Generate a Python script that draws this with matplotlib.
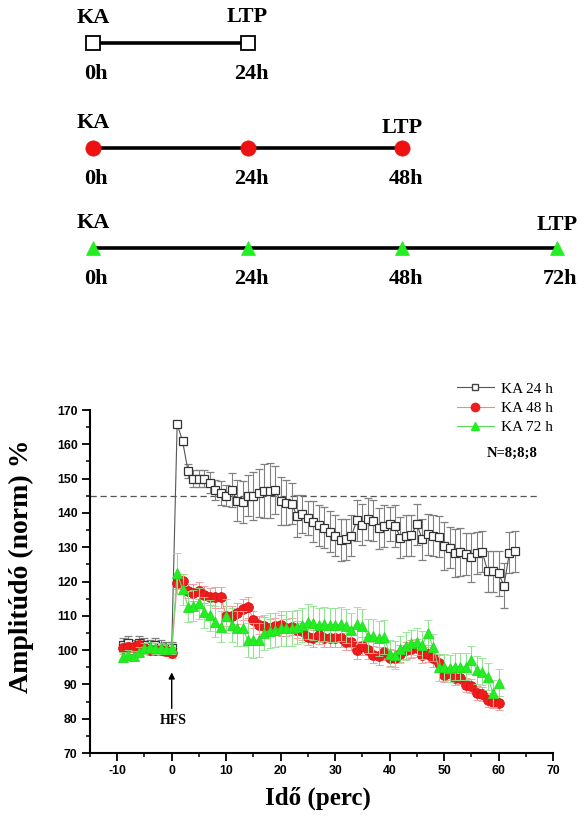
import matplotlib
matplotlib.use('Agg')
import matplotlib.pyplot as plt
from matplotlib.lines import Line2D
from matplotlib.ticker import MultipleLocator

plt.rcParams['axes.unicode_minus'] = False

# ---------------- data ----------------
t24 = list(range(-9, 64))
ka24 = [101.5, 102, 101, 102, 101.5, 101, 101.5, 101, 100.5, 100.5,
        165.9, 160.9, 152.2, 150, 150, 150, 148.8, 146.7, 145.9, 145,
        146.7, 143.6, 143.2, 145, 144.8, 145.7, 146.4, 146.5, 146.6, 143.4,
        143, 142.7, 139.1, 139.6, 138.6, 137.4, 136.4, 135.7, 134.5, 133.3,
        132.1, 132.3, 133.3, 137.9, 136.5, 138.2, 137.7, 135.5, 136.2, 136.7,
        136.2, 132.8, 133.3, 133.5, 136.7, 132.3, 133.8, 133.3, 133.1, 130.4,
        129.9, 128.4, 128.6, 128, 127, 128.3, 128.7, 123, 123, 122.4,
        118.8, 128.4, 128.8]
ka24_err = [2, 2, 2, 2, 2, 2, 2, 2, 2, 2,
            1, 1, 2, 2.5, 2.5, 2.5, 3, 3, 3.5, 3,
            5, 6, 6, 6, 7, 7, 8, 8, 7, 7,
            6.5, 6, 6, 5.5, 5, 6, 6, 6, 6, 6,
            6, 6, 6, 6, 6, 6, 6, 6, 6, 5,
            6, 6, 6, 6, 6, 6, 6, 6, 6, 7,
            6, 7, 7, 6, 7, 6, 6, 6, 6, 6.5,
            6.5, 6, 6]

t48 = list(range(-9, 61))
ka48 = [100.5, 101, 101, 101.5, 100.5, 100, 100, 100, 99.8, 99.3,
        119.7, 120.2, 117.3, 116.7, 117.3, 116.1, 115.6, 115.4, 115.4, 110,
        110, 110.7, 111.9, 112.5, 108.8, 107.3, 107.1, 106.5, 107, 107.2,
        106.5, 106.8, 106, 105.5, 103.9, 103.5, 104.4, 103.4, 103.4, 103.4,
        103.4, 102.5, 102.5, 100, 101.2, 100, 98.6, 98.3, 99.5, 97.8,
        97.6, 98.9, 100, 100.3, 100.6, 98.6, 98.9, 97.6, 96.1, 92.7,
        93.2, 91.8, 92, 89.8, 89.5, 87.4, 87.2, 85.4, 85, 84.5]
ka48_err = [1.5, 1.5, 1.5, 1.5, 1.5, 1.5, 1.5, 1.5, 1.5, 1.5,
            2, 2, 2, 2.5, 2.5, 2.5, 2.5, 3, 3, 3,
            3, 3, 3, 3, 2.5, 2.5, 2.5, 2.5, 2.5, 3,
            2.5, 2.5, 2.5, 2.5, 2.5, 2.5, 2.5, 2.5, 2.5, 2.5,
            2.5, 2.5, 2.5, 2.5, 2.5, 2.5, 2.5, 2.5, 2.5, 2.5,
            2.5, 2.5, 2.5, 2.5, 2.5, 2.5, 2.5, 2.5, 2.5, 2,
            2, 2, 2, 2, 2, 2, 2, 2, 2, 2]

t72 = list(range(-9, 61))
ka72 = [98, 98.5, 98.3, 99.5, 100.5, 101, 100.5, 100.5, 100.3, 100.5,
        122.4, 117.7, 112.7, 112.9, 113.6, 111, 110.2, 108.3, 106.8, 110,
        107.3, 106.3, 106.3, 102.9, 102.8, 102.9, 105.1, 105.7, 105.9, 106.3,
        106.3, 106.3, 106.8, 107.3, 108.3, 107.8, 107.3, 107.6, 107.3, 107.3,
        107.6, 107, 105.9, 107.6, 107, 104.1, 104.1, 103.4, 103.8, 99,
        98.6, 100.2, 101.2, 102, 102.5, 101.5, 104.9, 100.8, 95, 95,
        94.7, 95.2, 95.2, 95.2, 97.1, 94.2, 93.7, 92.3, 87.4, 90.5]
ka72_err = [1.5, 1.5, 1.5, 1.5, 1.5, 1.5, 1.5, 1.5, 1.5, 1.5,
            6, 4.5, 4.5, 4.5, 4.5, 4.5, 4.5, 4.5, 4.5, 5,
            5, 5, 5, 5, 5, 5, 5, 5, 5, 5,
            5, 5, 5, 5, 5, 5, 5, 5, 5, 5,
            5, 5, 5, 5, 5, 5, 5, 5, 5, 4,
            4, 4, 4, 4, 4, 4, 4, 4, 4, 4,
            4, 4, 4, 4, 4, 4, 4, 4, 4, 4]

series_labels = ['KA 24 h', 'KA 48 h', 'KA 72 h']
threshold = 145
n_text = 'N=8;8;8'

# timeline diagram
tl_hours = [[0, 24], [0, 24, 48], [0, 24, 48, 72]]
tl_hour_labels = [['0h', '24h'], ['0h', '24h', '48h'], ['0h', '24h', '48h', '72h']]

SERIF = 'Liberation Serif'
SANS = 'Liberation Sans'

W, H = 587, 816
fig = plt.figure(figsize=(W / 100, H / 100), dpi=100)

# ---------------- timeline (pixel y coords, hour x coords) ----------------
ax_t = fig.add_axes([0, 0, 1, 1])
pph = (557 - 93) / 72.0
ax_t.set_xlim(-93 / pph, (W - 93) / pph)
ax_t.set_ylim(H, 0)
ax_t.axis('off')

row_y = [43, 148, 248]
row_marker = [dict(marker='s', ms=10.5, mfc='white', mec='black', mew=1.3),
              dict(marker='o', ms=11, mfc='#ee1111', mec='#ee1111', mew=0.5),
              dict(marker='^', ms=10, mfc='#22ee22', mec='#22ee22', mew=0.5)]
ltp_dy = [-26, -20, -23]
for i, hrs in enumerate(tl_hours):
    y = row_y[i]
    ax_t.plot(hrs, [y] * len(hrs), color='black', lw=2.6, zorder=1, solid_capstyle='butt')
    ax_t.plot(hrs, [y] * len(hrs), ls='none', zorder=2, **row_marker[i])
    ax_t.text(hrs[0], y - 25, 'KA', ha='center', va='center', fontsize=16,
              fontweight='bold', family=SERIF)
    ax_t.text(hrs[-1], y + ltp_dy[i], 'LTP', ha='center', va='center', fontsize=16,
              fontweight='bold', family=SERIF)
    for h, lab in zip(hrs, tl_hour_labels[i]):
        ax_t.text(h + 0.5, y + 31, lab, ha='center', va='center', fontsize=16,
                  fontweight='bold', family=SERIF)

# ---------------- main chart ----------------
ax = fig.add_axes([90 / W, 1 - 753 / H, 463 / W, 343 / H])
ax.set_xlim(-15, 70)
ax.set_ylim(70, 170)

ax.hlines(threshold, -15, 67.5, colors='#555555', linestyles=(0, (5, 3)), lw=0.9, zorder=1)

ax.errorbar(t24, ka24, yerr=ka24_err, fmt='-', color='#555555', lw=0.8,
            marker='s', ms=6, mfc='white', mec='#333333', mew=0.9,
            ecolor='#808080', elinewidth=0.8, capsize=3, capthick=0.8, zorder=2)
ax.errorbar(t48, ka48, yerr=ka48_err, fmt='-', color='#f08a8a', lw=0.8,
            marker='o', ms=7, mfc='#ee1c1c', mec='#d81414', mew=0.6,
            ecolor='#f29494', elinewidth=0.8, capsize=3, capthick=0.8, zorder=3)
ax.errorbar(t72, ka72, yerr=ka72_err, fmt='-', color='#66dd66', lw=0.8,
            marker='^', ms=7.5, mfc='#22ee22', mec='#22dd22', mew=0.6,
            ecolor='#90e290', elinewidth=0.8, capsize=3, capthick=0.8, zorder=4)

for s in ['top', 'right']:
    ax.spines[s].set_visible(False)
for s in ['left', 'bottom']:
    ax.spines[s].set_linewidth(1.5)

ax.set_xticks(range(-10, 71, 10))
ax.set_yticks(range(70, 171, 10))
ax.xaxis.set_minor_locator(MultipleLocator(5))
ax.yaxis.set_minor_locator(MultipleLocator(5))
ax.tick_params(which='major', direction='out', length=6, width=1.3, pad=3)
ax.tick_params(which='minor', direction='out', length=3, width=1.1)
for lab in ax.get_xticklabels() + ax.get_yticklabels():
    lab.set_family(SANS)
    lab.set_fontweight('bold')
    lab.set_fontsize(8.8)

ax.set_xlabel('Idő (perc)', family=SERIF, fontweight='bold', fontsize=18)
ax.xaxis.set_label_coords(0.492, -0.098)
ax.set_ylabel('Amplitúdó (norm) %', family=SERIF, fontweight='bold', fontsize=20)
ax.yaxis.set_label_coords(-0.12, 0.545)

# HFS arrow
ax.annotate('', xy=(0, 93.5), xytext=(0, 83),
            arrowprops=dict(arrowstyle='-|>', color='black', lw=1.0,
                            mutation_scale=9, shrinkA=0, shrinkB=0))
ax.text(0.3, 79.4, 'HFS', ha='center', va='center', family=SERIF,
        fontweight='bold', fontsize=10)

# legend
handles = [Line2D([], [], color='#555555', lw=0.8, marker='s', ms=4.5, mfc='white', mec='#444444'),
           Line2D([], [], color='#f08a8a', lw=0.8, marker='o', ms=6, mfc='#ee1c1c', mec='#ee1c1c'),
           Line2D([], [], color='#55dd55', lw=0.8, marker='^', ms=6, mfc='#22ee22', mec='#22ee22')]
ax.legend(handles, series_labels, loc='upper left',
          bbox_to_anchor=(457 / W, 1 - 382 / H), bbox_transform=fig.transFigure,
          frameon=False, prop=dict(family=SERIF, size=11), handlelength=2.4,
          handletextpad=0.45, labelspacing=0.36, borderpad=0, borderaxespad=0)
fig.text(512 / W, 1 - 453 / H, n_text, ha='center', va='center', family=SERIF,
         fontweight='bold', fontsize=10.5)

fig.savefig('out.png', dpi=100)
